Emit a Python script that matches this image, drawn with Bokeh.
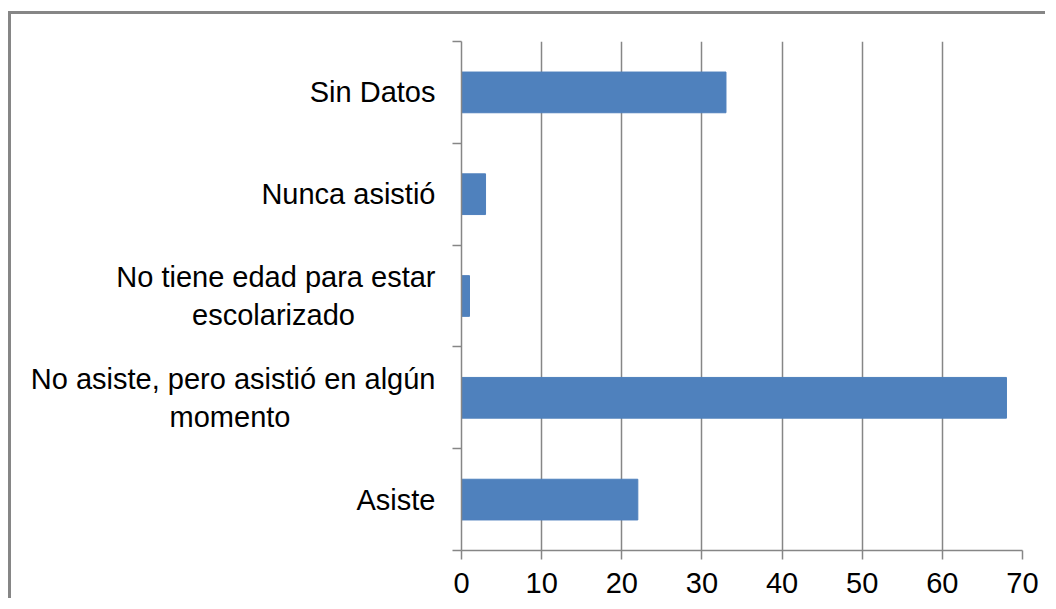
from bokeh.plotting import figure
from bokeh.layouts import column
from bokeh.models import FixedTicker, Range1d
from bokeh.embed import file_html
from bokeh.resources import INLINE

NB = "\u00a0"
categories = ["Asiste",
              "No asiste, pero asistió en algún\nmomento" + NB * 18,
              "No tiene edad para estar\nescolarizado" + NB * 10,
              "Nunca asistió",
              "Sin Datos"]
values = [22, 68, 1, 3, 33]
x_ticks = [0, 10, 20, 30, 40, 50, 60, 70]

centers = [i + 0.5 for i in range(len(categories))]
bounds = list(range(len(categories) + 1))

GRAY = "#868686"
FONT = "Liberation Sans"

p = figure(width=1037, height=587, output_backend="svg", toolbar_location=None,
           x_range=Range1d(0, 70), y_range=Range1d(0, len(categories)),
           min_border_left=450, min_border_right=26, min_border_top=27, min_border_bottom=51,
           styles={"border-left": "3px solid #868686", "border-top": "3px solid #868686"})
p.outline_line_color = None
p.background_fill_color = "white"
p.border_fill_color = "white"

p.hbar(y=centers, right=values, left=0, height=0.4, fill_color="#4F81BD",
       line_color="#4F81BD", line_width=1)

p.xaxis.ticker = FixedTicker(ticks=x_ticks)
p.xaxis.axis_line_color = GRAY
p.xaxis.axis_line_width = 1.5
p.xaxis.major_tick_line_color = GRAY
p.xaxis.major_tick_line_width = 1.5
p.xaxis.major_tick_out = 9
p.xaxis.major_tick_in = 0
p.xaxis.minor_tick_line_color = None
p.xaxis.major_label_text_font = FONT
p.xaxis.major_label_text_font_size = "29px"
p.xaxis.major_label_text_color = "black"
p.xaxis.major_label_standoff = 13

p.yaxis.ticker = FixedTicker(ticks=centers, minor_ticks=bounds)
p.yaxis.major_label_overrides = {c: lab for c, lab in zip(centers, categories)}
p.yaxis.axis_line_color = GRAY
p.yaxis.axis_line_width = 1.5
p.yaxis.major_tick_line_color = None
p.yaxis.major_tick_out = 6
p.yaxis.minor_tick_line_color = GRAY
p.yaxis.minor_tick_line_width = 1.5
p.yaxis.minor_tick_out = 9
p.yaxis.minor_tick_in = 0
p.yaxis.major_label_text_font = FONT
p.yaxis.major_label_text_font_size = "29px"
p.yaxis.major_label_text_color = "black"
p.yaxis.major_label_standoff = 17

p.xgrid.ticker = FixedTicker(ticks=x_ticks)
p.xgrid.grid_line_color = GRAY
p.xgrid.grid_line_width = 1.5
p.ygrid.grid_line_color = None

layout = column(p, styles={"padding-left": "8px", "padding-top": "11px",
                           "background-color": "white"})

open("out.html", "w").write(file_html(layout, INLINE))
